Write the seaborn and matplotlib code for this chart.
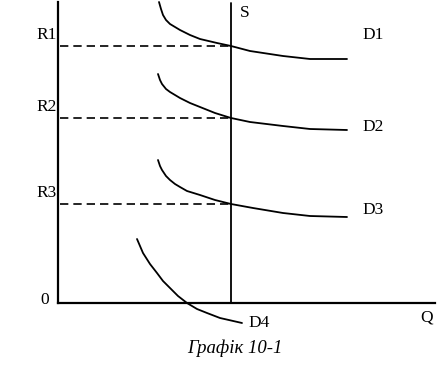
import matplotlib
matplotlib.use("Agg")
import matplotlib.pyplot as plt
import seaborn as sns
import pandas as pd

# demand curves (quantity, price)
q_d1 = [101, 103, 105, 108, 112, 117, 122, 132, 142, 159, 173, 192, 225, 252, 289]
p_d1 = [301, 294, 288, 283, 279, 276, 273, 268, 264, 260, 257, 252, 247, 244, 244]

q_d2 = [100, 102, 104, 108, 112, 117, 122, 132, 142, 157, 173, 192, 225, 252, 289]
p_d2 = [229, 223, 219, 214, 211, 208, 205, 200, 196, 190, 185, 181, 177, 174, 173]

q_d3 = [100, 102, 104, 108, 112, 117, 122, 129, 142, 157, 173, 195, 225, 252, 289]
p_d3 = [143, 137, 133, 127, 123, 119, 116, 112, 108, 103, 99, 95, 90, 87, 86]

# lowest demand curve, dips below the Q axis
q_d4 = [79, 82, 85, 92, 99, 105, 112, 120, 129, 139, 149, 162, 184]
p_d4 = [64, 57, 50, 39, 30, 22, 15, 7, 0, -6, -10, -15, -20]

# vertical supply at fixed quantity
q_supply = 173
s_top = 300

# price levels where S meets D1..D3
r_levels = [257, 185, 99]
r_labels = ["R1", "R2", "R3"]

curves = pd.concat([
    pd.DataFrame({"Q": q_d1, "P": p_d1, "curve": "D1"}),
    pd.DataFrame({"Q": q_d2, "P": p_d2, "curve": "D2"}),
    pd.DataFrame({"Q": q_d3, "P": p_d3, "curve": "D3"}),
    pd.DataFrame({"Q": q_d4, "P": p_d4, "curve": "D4"}),
    pd.DataFrame({"Q": [q_supply, q_supply], "P": [0, s_top], "curve": "S"}),
], ignore_index=True)

sns.set_style("white")
plt.rcParams["font.family"] = ["Liberation Serif", "DejaVu Serif"]
plt.rcParams["text.color"] = "black"

fig = plt.figure(figsize=(4.37, 3.69), dpi=100)
ax = fig.add_axes([58 / 437, 66 / 369, 377 / 437, 301 / 369])

sns.lineplot(data=curves, x="Q", y="P", units="curve", estimator=None,
             sort=False, color="black", linewidth=1.3, ax=ax)

# dashed price levels
for r in r_levels:
    ax.plot([2, q_supply], [r, r], color="black", linewidth=1.2,
            linestyle=(0, (5, 3)))

for ln in ax.lines:
    ln.set_clip_on(False)

ax.set_xlim(0, 377)
ax.set_ylim(0, 301)
ax.set_xticks([])
ax.set_yticks([])
ax.set_xlabel("")
ax.set_ylabel("")
for side in ["top", "right"]:
    ax.spines[side].set_visible(False)
for side in ["left", "bottom"]:
    ax.spines[side].set_linewidth(1.6)
    ax.spines[side].set_color("black")

fs = 12.5
r_text_y = [268, 196, 110]
for lab, y in zip(r_labels, r_text_y):
    ax.text(-1, y, lab, ha="right", va="center", fontsize=fs, color="black")
ax.text(-13, 3, "0", ha="center", va="center", fontsize=fs, color="black")
ax.text(182, 290, "S", ha="left", va="center", fontsize=fs, color="black")
ax.text(304, 268, "D1", ha="left", va="center", fontsize=fs, color="black")
ax.text(304, 176, "D2", ha="left", va="center", fontsize=fs, color="black")
ax.text(304, 93, "D3", ha="left", va="center", fontsize=fs, color="black")
ax.text(190, -20, "D4", ha="left", va="center", fontsize=fs, color="black")
ax.text(362, -15, "Q", ha="left", va="center", fontsize=fs, color="black")
ax.text(177, -45, "Графік 10-1", ha="center", va="center",
        fontsize=13.5, style="italic", color="black")

fig.savefig("out.png", dpi=100)
